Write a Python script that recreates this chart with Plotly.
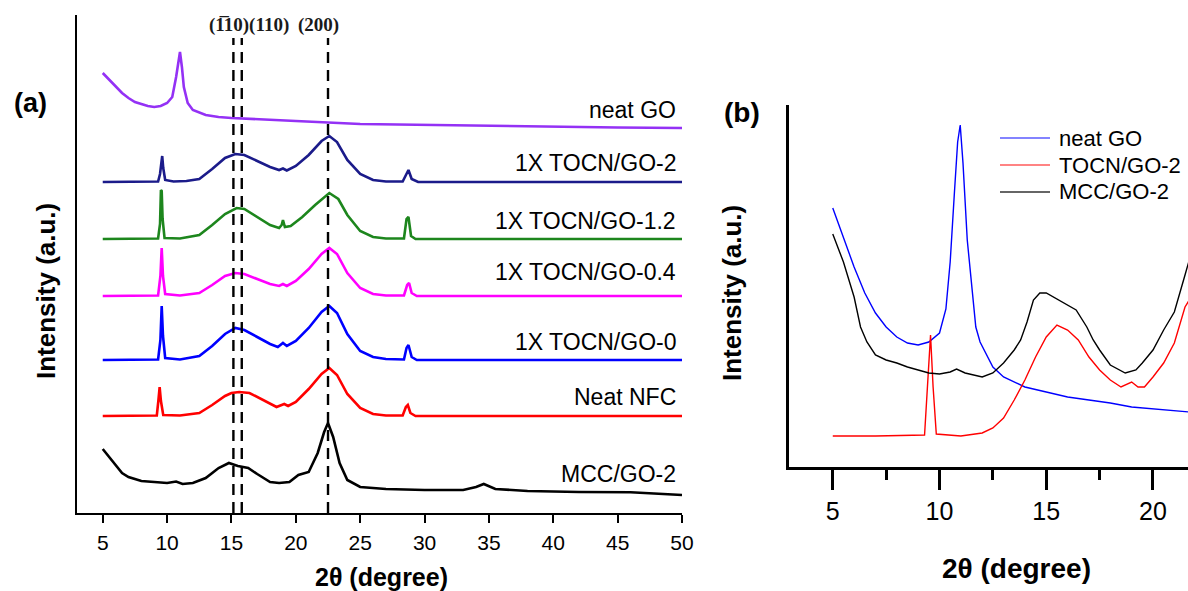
import plotly.graph_objects as go

# ---------------- panel (a): stacked XRD patterns ----------------
# intensities are heights (a.u.) above each pattern's own baseline
GO_A_X = [5, 5.5, 6, 6.5, 7, 7.5, 8, 8.5, 9, 9.5, 10, 10.4, 10.7, 10.9, 11.0, 11.15, 11.3, 11.6, 12,
          13, 14, 15, 17, 20, 25, 30, 35, 40, 45, 50]
GO_A_Y = [55, 48, 41, 35, 30, 26, 24, 22, 21, 22, 25, 31, 51, 71, 76, 61, 41, 25, 18,
          13, 11, 10, 9, 7, 4, 3, 2, 1.3, 0.5, 0]

TOCN2_X = [5, 7, 9.3, 9.45, 9.55, 9.62, 9.7, 9.85, 10.5, 11.5, 12.5, 13.5, 14.5, 15.3, 16, 17, 18, 18.7,
           19.0, 19.3, 20, 21, 22, 22.6, 23.2, 24, 25, 26, 27, 28.3, 28.6, 28.75, 29.0, 29.5, 35, 40, 45, 50]
TOCN2_Y = [0, 0, 0.5, 8, 24, 26, 14, 2, 0.5, 1, 3, 13, 24, 28, 27, 21, 15, 12,
           13.5, 11.5, 16, 27, 41, 46, 40, 22, 8, 2, 0.5, 0.5, 9, 12, 3, 0, 0, 0, 0, 0]

TOCN12_X = [5, 7, 9.3, 9.45, 9.52, 9.58, 9.65, 9.8, 11, 12.5, 13.5, 14.5, 15.4, 16, 17, 18, 18.7, 18.9,
            19.0, 19.15, 19.6, 20.5, 21.5, 22.6, 23.3, 24, 25, 26, 27, 28.4, 28.6, 28.75, 28.95, 29.3, 50]
TOCN12_Y = [0, 0, 0.5, 15, 49, 48, 20, 1, 0.5, 4, 14, 25, 31, 30, 22, 14, 11, 14,
            19, 12, 13, 22, 34, 46, 40, 24, 8, 2, 0.5, 0.5, 20, 22, 3, 0, 0]

TOCN04_X = [5, 7, 9.3, 9.48, 9.58, 9.68, 9.85, 11, 12.5, 13.5, 14.5, 15.3, 16, 17, 18, 18.7, 19.0, 19.3,
            20, 21, 22, 22.6, 23.2, 24, 25, 26, 27, 28.4, 28.65, 28.8, 29.0, 29.4, 50]
TOCN04_Y = [0, 0, 0.5, 20, 48, 20, 2, 0.5, 3, 11, 20, 23, 22, 17, 12, 10, 12, 10,
            15, 27, 42, 48, 42, 23, 8, 2, 0.5, 0.5, 11, 13, 3, 0, 0]

TOCN0_X = [5, 7, 9.3, 9.48, 9.58, 9.68, 9.85, 11, 12.5, 13.5, 14.5, 15.3, 16, 17, 18, 18.6, 19.0, 19.3,
           20, 21, 22, 22.6, 23.2, 24, 25, 26, 27, 28.4, 28.6, 28.75, 29.0, 29.4, 50]
TOCN0_Y = [0, 0, 0.5, 20, 54, 24, 2, 0.5, 4, 14, 26, 32, 30, 23, 16, 13, 17, 14,
           19, 32, 48, 54, 47, 26, 9, 3, 1, 0.5, 12, 15, 3, 0, 0]

NFC_X = [5, 7, 9.2, 9.32, 9.42, 9.52, 9.7, 11, 12.5, 13.5, 14.5, 15, 15.6, 16.4, 17, 18, 18.5, 18.9,
         19.1, 19.4, 20, 21, 22, 22.6, 23.2, 24, 25, 26, 27, 28.3, 28.55, 28.7, 28.9, 29.3, 50]
NFC_Y = [0, 0, 0.5, 15, 29, 15, 1, 0.5, 3, 11, 20, 23, 24, 23, 19, 12, 9, 11,
         12, 10, 14, 27, 42, 48, 41, 22, 8, 2, 0.5, 0.5, 9, 11, 3, 0, 0]

MCC_A_X = [5, 5.5, 6, 6.5, 7, 8, 9, 10, 10.7, 11.2, 12, 13, 14, 14.8, 15.5, 16.3, 17, 18, 18.7, 19.5,
           20.2, 21, 21.7, 22.2, 22.5, 22.9, 23.4, 24, 25, 27, 30, 33, 34, 34.6, 35.5, 38, 42, 46, 50]
MCC_A_Y = [46, 38, 30, 22, 18, 14, 13, 12, 13.5, 11, 12, 17, 27, 32, 29, 27, 21, 13, 12, 13,
           20, 23, 42, 63, 72, 58, 32, 15, 8, 6, 5, 5, 8, 11, 6, 4, 3, 2.7, 0]

SERIES_A = [
    ("neat GO", GO_A_X, GO_A_Y, 385, "#9431f5"),
    ("1X TOCN/GO-2", TOCN2_X, TOCN2_Y, 331, "#1b1b8a"),
    ("1X TOCN/GO-1.2", TOCN12_X, TOCN12_Y, 274, "#1d861d"),
    ("1X TOCN/GO-0.4", TOCN04_X, TOCN04_Y, 217, "#ff00ff"),
    ("1X TOCN/GO-0", TOCN0_X, TOCN0_Y, 153, "#0000ff"),
    ("Neat NFC", NFC_X, NFC_Y, 97, "#ff0000"),
    ("MCC/GO-2", MCC_A_X, MCC_A_Y, 18, "#000000"),
]
LABEL_Y_A = [403, 349.5, 291.5, 241.5, 171.5, 116.5, 39.5]

# cellulose reflections marked by dashed lines
REFLECTION_POS = [15.15, 15.8, 22.5]

# ---------------- panel (b): overlaid patterns ----------------
B_GO_X = [5, 5.5, 6, 6.5, 7, 7.5, 8, 8.5, 9, 9.5, 10, 10.3, 10.5, 10.7, 10.85, 10.97, 11.1, 11.3, 11.5,
          11.7, 11.9, 12.2, 12.5, 13, 14, 15, 16, 17, 18, 19, 20, 21, 21.7]
B_GO_Y = [259, 230, 200, 174, 154, 140, 130, 124, 122, 125, 134, 158, 205, 275, 325, 342, 304, 227, 180,
          140, 125, 112, 100, 90, 80, 75, 70, 67, 64, 60, 58, 56, 55]

B_TOCN_X = [5, 7, 9.3, 9.45, 9.58, 9.7, 9.85, 11, 12, 12.5, 13, 13.5, 14, 14.5, 15, 15.5, 16, 16.5, 17,
            17.5, 18, 18.5, 19, 19.3, 19.6, 20, 20.5, 21, 21.5, 21.7]
B_TOCN_Y = [31, 31, 32, 80, 132, 80, 33, 31, 34, 39, 49, 67, 87, 110, 130, 142, 137, 127, 110,
            97, 87, 80, 85, 80, 80, 90, 104, 124, 160, 167]

B_MCC_X = [5, 5.5, 6, 6.3, 6.6, 7, 7.5, 8, 8.5, 9, 9.5, 10, 10.5, 10.8, 11.2, 12, 12.5, 13, 13.5, 13.8,
           14.1, 14.4, 14.7, 15.0, 15.6, 16.4, 16.9, 17.2, 17.5, 18, 18.7, 19.2, 19.5, 20, 20.5, 21, 21.5, 21.7]
B_MCC_Y = [233, 205, 170, 140, 125, 112, 107, 104, 100, 97, 94, 93, 95, 98, 94, 90, 94, 104, 117, 127,
           145, 167, 174, 174, 167, 157, 140, 127, 117, 102, 94, 97, 104, 117, 137, 155, 192, 207]

SERIES_B = [
    ("neat GO", B_GO_X, B_GO_Y, "#0000ff", "#5a5aff"),
    ("TOCN/GO-2", B_TOCN_X, B_TOCN_Y, "#ff0000", "#ff5a5a"),
    ("MCC/GO-2", B_MCC_X, B_MCC_Y, "#000000", "#333333"),
]

W, H = 1188, 591
FONT = "Liberation Sans, Arial, sans-serif"

fig = go.Figure()

for name, xs, ys, base, color in SERIES_A:
    fig.add_trace(go.Scatter(
        x=xs, y=[v + base for v in ys], mode="lines", name=name,
        line=dict(color=color, width=2.6), showlegend=False,
        xaxis="x", yaxis="y", hoverinfo="skip"))

for name, xs, ys, color, _ in SERIES_B:
    fig.add_trace(go.Scatter(
        x=xs, y=ys, mode="lines", name=name,
        line=dict(color=color, width=1.4), showlegend=False,
        xaxis="x2", yaxis="y2", hoverinfo="skip"))

shapes = []
for pos in REFLECTION_POS:
    shapes.append(dict(type="line", xref="x", yref="y", x0=pos, x1=pos, y0=0, y1=475,
                       line=dict(color="black", width=2.4, dash="11px,7px"), layer="above"))

annotations = []
for (name, _, _, _, _), ly in zip(SERIES_A, LABEL_Y_A):
    annotations.append(dict(x=49.7, y=ly, xref="x", yref="y", text=name, showarrow=False,
                            xanchor="right", yanchor="middle",
                            font=dict(family=FONT, size=23, color="black")))

# legend of panel (b): short line sample + series name per row
for i, (name, _, _, _, key_color) in enumerate(SERIES_B):
    row_y = 1 - (138 + 27 * i) / H
    shapes.append(dict(type="line", xref="paper", yref="paper", x0=1000 / W, x1=1050 / W,
                       y0=row_y, y1=row_y, line=dict(color=key_color, width=1.5)))
    annotations.append(dict(x=1057 / W, y=row_y, xref="paper", yref="paper", text=name,
                            showarrow=False, xanchor="left", yanchor="middle",
                            font=dict(family=FONT, size=22, color="black")))

hkl_font = dict(family="Liberation Serif, Times New Roman, serif", size=19, color="#1a1a1a")
annotations += [
    dict(x=248.5 / W, y=1 - 25 / H, xref="paper", yref="paper", text="<b>(1\u030510)(110)</b>",
         showarrow=False, xanchor="center", yanchor="middle", font=hkl_font),
    dict(x=318 / W, y=1 - 25 / H, xref="paper", yref="paper", text="<b>(200)</b>",
         showarrow=False, xanchor="center", yanchor="middle", font=hkl_font),
]

def paper_text(txt, px, py, size, angle=0):
    return dict(x=px / W, y=1 - py / H, xref="paper", yref="paper", text=f"<b>{txt}</b>",
                showarrow=False, xanchor="center", yanchor="middle", textangle=angle,
                font=dict(family=FONT, size=size, color="black"))

annotations += [
    paper_text("(a)", 30, 103, 27),
    paper_text("(b)", 742, 113, 28),
    paper_text("2\u03b8 (degree)", 381, 577, 25),
    paper_text("2\u03b8 (degree)", 1016, 568, 28),
    paper_text("Intensity (a.u.)", 46, 291, 26, -90),
    paper_text("Intensity (a.u.)", 732, 293, 26, -90),
]

fig.update_layout(
    width=W, height=H,
    margin=dict(l=0, r=0, t=0, b=0, autoexpand=False),
    paper_bgcolor="white", plot_bgcolor="white",
    font=dict(family=FONT, color="black"),
    showlegend=False,
    xaxis=dict(domain=[77 / W, 682 / W], range=[3, 50], tickvals=list(range(5, 55, 5)),
               ticks="outside", ticklen=8, tickwidth=2, tickcolor="black",
               showline=True, linewidth=2, linecolor="black", showgrid=False, zeroline=False,
               tickfont=dict(family=FONT, size=21, color="black"), ticklabelstandoff=2,
               automargin=False, anchor="y"),
    yaxis=dict(domain=[1 - 513 / H, 1 - 15 / H], range=[0, 498], showticklabels=False,
               ticks="", showline=True, linewidth=2, linecolor="black", showgrid=False,
               zeroline=False, automargin=False, anchor="x"),
    xaxis2=dict(domain=[789 / W, 1.0], range=[2.95, 21.64], tickvals=[5, 10, 15, 20],
                ticks="outside", ticklen=20, tickwidth=3, tickcolor="black",
                minor=dict(tickvals=[7.5, 12.5, 17.5], ticks="outside", ticklen=10,
                           tickwidth=3, tickcolor="black", showgrid=False),
                showline=True, linewidth=3, linecolor="black", showgrid=False, zeroline=False,
                tickfont=dict(family=FONT, size=25, color="black"), ticklabelstandoff=0,
                automargin=False, anchor="y2"),
    yaxis2=dict(domain=[1 - 467 / H, 1 - 105 / H], range=[0, 362], showticklabels=False,
                ticks="", showline=True, linewidth=3, linecolor="black", showgrid=False,
                zeroline=False, automargin=False, anchor="x2"),
    shapes=shapes,
    annotations=annotations,
)

fig.write_html("out.html")
